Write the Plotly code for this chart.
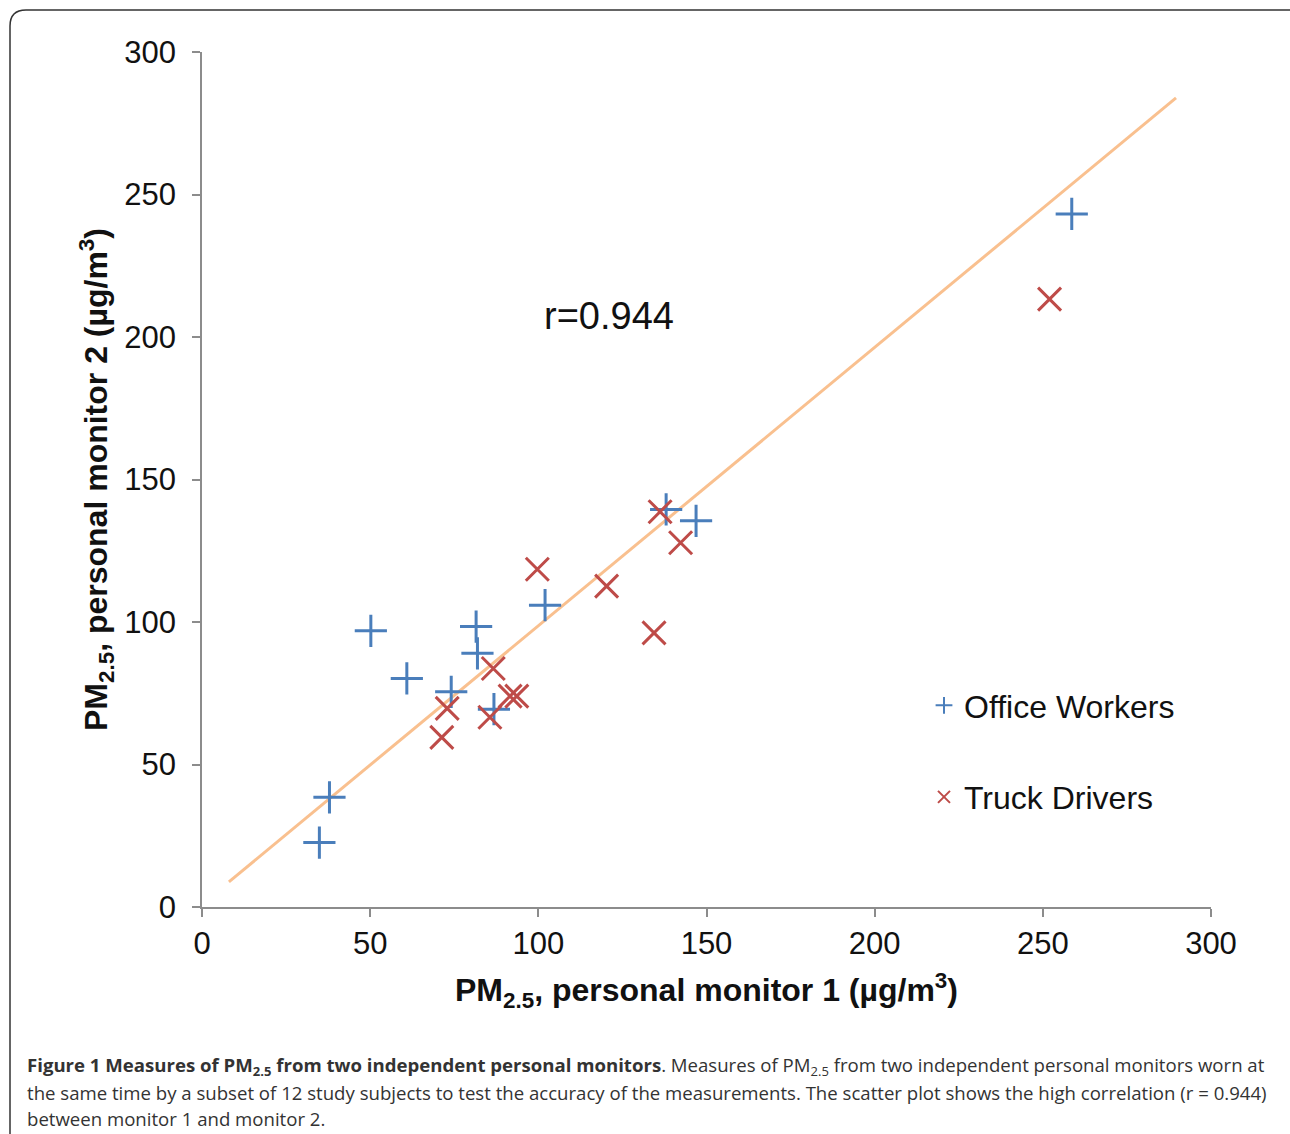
import plotly.graph_objects as go

# Data
office_x = [34.9, 37.9, 50.2, 60.9, 74.1, 81.5, 81.9, 86.8, 102.0, 138.0, 146.9, 258.6]
office_y = [22.6, 38.5, 96.9, 80.2, 75.5, 98.4, 89.0, 69.4, 105.9, 139.5, 135.5, 243.2]
truck_x = [99.7, 120.3, 136.2, 142.3, 134.4, 86.6, 91.6, 93.6, 72.9, 71.3, 85.6, 252.0]
truck_y = [118.5, 112.6, 138.7, 127.8, 96.2, 83.7, 74.0, 74.0, 69.7, 59.5, 66.6, 213.3]
fit_x = [8.0, 289.6]
fit_y = [8.8, 283.9]
tick_vals = [0, 50, 100, 150, 200, 250, 300]

W, H = 1290, 1134
L, R, T, B = 202, 1290 - 1211, 52, 1134 - 907
PW, PH = W - L - R, H - T - B


def px(x):
    return (x - L) / PW


def py(y):
    return (H - B - y) / PH


fig = go.Figure()
fig.add_trace(go.Scatter(x=fit_x, y=fit_y, mode="lines",
                         line=dict(color="#f9c08f", width=3),
                         showlegend=False, hoverinfo="skip"))
fig.add_trace(go.Scatter(x=office_x, y=office_y, mode="markers", name="Office Workers",
                         legendgroup="a",
                         marker=dict(symbol="cross-thin", size=23,
                                     line=dict(color="#4a7ebb", width=3), color="#4a7ebb")))
fig.add_trace(go.Scatter(x=truck_x, y=truck_y, mode="markers", name="Truck Drivers",
                         legendgroup="b",
                         marker=dict(symbol="x-thin", size=23,
                                     line=dict(color="#be4b48", width=3), color="#be4b48")))

axis_common = dict(range=[0, 300], tickvals=tick_vals, showgrid=False, zeroline=False,
                   showline=True, linecolor="#8c8c8c", linewidth=1.5,
                   ticks="outside", ticklen=8, tickwidth=1.5, tickcolor="#8c8c8c",
                   tickfont=dict(family="Liberation Sans, Arial", size=31, color="#111"))

fig.update_xaxes(**axis_common)
fig.update_yaxes(**axis_common, ticklabelstandoff=10)

title_font = dict(family="Liberation Sans, Arial", size=32, color="#111")
annotations = [
    dict(text="<b>PM<sub>2.5</sub>, personal monitor 1 (µg/m<sup>3</sup>)</b>",
         xref="paper", yref="paper", x=px(706), y=py(990), showarrow=False,
         font=title_font, xanchor="center", yanchor="middle"),
    dict(text="<b>PM<sub>2.5</sub>, personal monitor 2 (µg/m<sup>3</sup>)</b>",
         xref="paper", yref="paper", x=px(97), y=py(480), showarrow=False,
         font=title_font, textangle=-90, xanchor="center", yanchor="middle"),
    dict(text="r=0.944", x=121, y=207.4, xref="x", yref="y", showarrow=False,
         font=dict(family="Liberation Sans, Arial", size=38, color="#111")),
]

cap_font = dict(family="Open Sans", size=18.6, color="#333")
cap_lines = [
    ("<b>Figure 1 Measures of PM<sub>2.5</sub> from two independent personal monitors</b>. "
     "Measures of PM<sub>2.5</sub> from two independent personal monitors worn at", 1066),
    ("the same time by a subset of 12 study subjects to test the accuracy of the measurements. "
     "The scatter plot shows the high correlation (r = 0.944)", 1092),
    ("between monitor 1 and monitor 2.", 1118),
]
for txt, yy in cap_lines:
    annotations.append(dict(text=txt, xref="paper", yref="paper", x=px(25), y=py(yy),
                            showarrow=False, xanchor="left", yanchor="middle", font=cap_font))

shapes = [
    dict(type="path", xref="paper", yref="paper",
         path=f"M {px(10)},{py(1140)} L {px(10)},{py(26)} Q {px(10)},{py(10)} {px(26)},{py(10)} "
              f"L {px(1300)},{py(10)}",
         line=dict(color="#333", width=1.5))
]

fig.update_layout(
    width=W, height=H,
    margin=dict(l=L, r=R, t=T, b=B),
    paper_bgcolor="white", plot_bgcolor="white",
    annotations=annotations, shapes=shapes,
    legend=dict(x=px(924), y=py(678), xanchor="left", yanchor="top",
                traceorder="grouped", tracegroupgap=47, itemsizing="constant",
                font=dict(family="Liberation Sans, Arial", size=32, color="#111"),
                bgcolor="rgba(0,0,0,0)", itemwidth=30),
)

fig.write_html("out.html", config={"displayModeBar": False},
               post_script="document.body.style.margin='0';")
